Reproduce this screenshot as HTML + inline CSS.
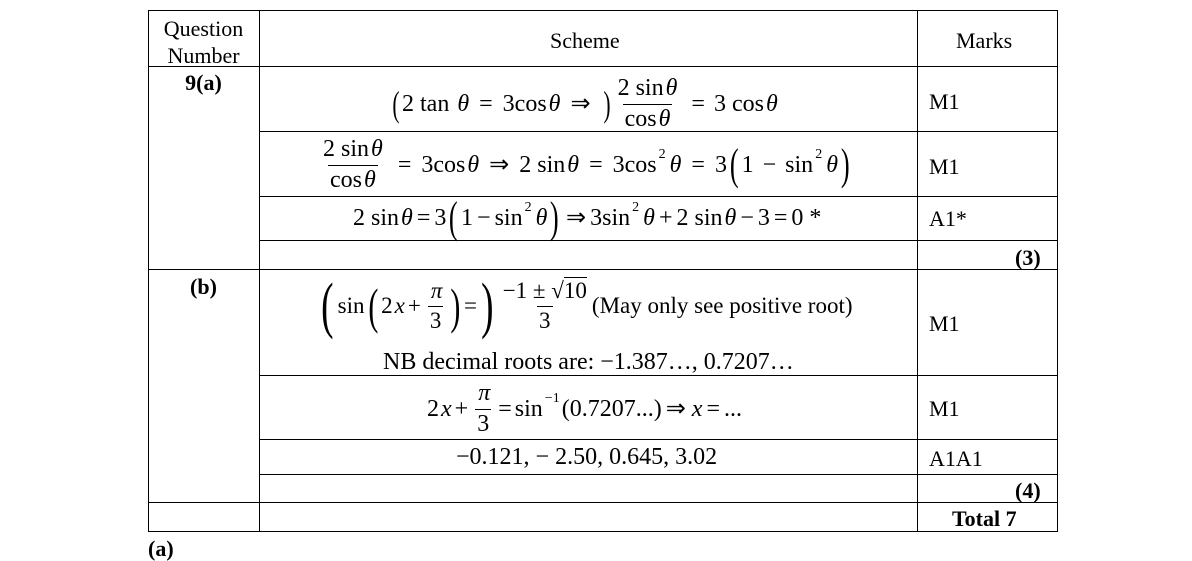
<!DOCTYPE html>
<html><head><meta charset="utf-8"><style>
body{margin:0;background:#fff;width:1192px;height:546px;overflow:hidden;position:relative;font-family:"Liberation Serif",serif;color:#000}
.h{position:absolute;height:1px;background:#000}
.v{position:absolute;width:1px;background:#000}
.t{position:absolute;font-size:21px;white-space:nowrap;line-height:1}
.eq{position:absolute;display:flex;align-items:center;font-size:24px;white-space:nowrap;line-height:1.2}
.fr{display:inline-flex;flex-direction:column;align-items:center;margin:0 3px}
.fr>span{padding:1px 2px;line-height:1.15}
.fr>span+span{border-top:1px solid #000}
i{font-style:italic;margin-left:2px}
.o{margin:0 6px}
.big{font-size:44px;font-weight:100;transform:scaleX(.6);display:inline-block;line-height:1}
.b{font-weight:bold}
.sp{font-size:14px;position:relative;top:-10px;margin:0 2px}
</style></head><body>
<div class="v" style="left:148px;top:10px;height:521px"></div>
<div class="v" style="left:259px;top:10px;height:521px"></div>
<div class="v" style="left:917px;top:10px;height:521px"></div>
<div class="v" style="left:1057px;top:10px;height:521px"></div>
<div class="h" style="left:148px;top:10px;width:910px"></div>
<div class="h" style="left:148px;top:66px;width:910px"></div>
<div class="h" style="left:259px;top:131px;width:799px"></div>
<div class="h" style="left:259px;top:196px;width:799px"></div>
<div class="h" style="left:259px;top:240px;width:799px"></div>
<div class="h" style="left:148px;top:269px;width:910px"></div>
<div class="h" style="left:259px;top:375px;width:799px"></div>
<div class="h" style="left:259px;top:439px;width:799px"></div>
<div class="h" style="left:259px;top:474px;width:799px"></div>
<div class="h" style="left:148px;top:502px;width:910px"></div>
<div class="h" style="left:148px;top:531px;width:910px"></div>

<div class="t" style="left:148px;width:111px;text-align:center;top:15px;line-height:27px;font-size:22px">Question<br>Number</div>
<div class="t" style="left:550px;top:30px;font-size:22px">Scheme</div>
<div class="t" style="left:956px;top:30px;font-size:22px">Marks</div>
<div class="t b" style="left:148px;width:111px;text-align:center;top:72px;font-size:22px">9(a)</div>
<div class="t b" style="left:148px;width:111px;text-align:center;top:276px;font-size:22px">(b)</div>

<div class="eq" style="left:390px;top:70px;height:68px"><span class="big" style="font-size:36px">(</span>2 tan<i>&nbsp;θ</i><span class="o" style="margin:0 10px">=</span>3cos<i>θ</i><span class="o" style="margin:0 10px">⇒</span><span class="big" style="font-size:36px">)</span><span class="fr"><span>2 sin<i>θ</i></span><span>cos<i>θ</i></span></span><span class="o" style="margin:0 9px">=</span>3 cos<i>θ</i></div>
<div class="eq" style="left:318px;top:132px;height:66px"><span class="fr"><span>2 sin<i>θ</i></span><span>cos<i>θ</i></span></span><span class="o" style="margin:0 10px">=</span>3cos<i>θ</i><span class="o" style="margin:0 10px">⇒</span>2 sin<i>θ</i><span class="o" style="margin:0 10px">=</span>3cos<span class="sp">2</span><i>θ</i><span class="o" style="margin:0 10px">=</span>3<span class="big">(</span>1<span class="o" style="margin:0 9px">−</span>sin<span class="sp">2</span><i>θ</i><span class="big">)</span></div>
<div class="eq" style="left:353px;top:198px;height:40px">2 sin<i>θ</i><span class="o" style="margin:0 4px">=</span>3<span class="big">(</span>1<span class="o" style="margin:0 4px">−</span>sin<span class="sp">2</span><i>θ</i><span class="big">)</span><span class="o" style="margin:0 4px">⇒</span>3sin<span class="sp">2</span><i>θ</i><span class="o" style="margin:0 4px">+</span>2 sin<i>θ</i><span class="o" style="margin:0 4px">−</span>3<span class="o" style="margin:0 4px">=</span>0 *</div>

<div class="eq" style="left:317px;top:272px;height:68px;font-size:23px"><span class="big" style="font-size:62px">(</span>sin<span class="big" style="font-size:50px">(</span>2<i>x</i><span class="o" style="margin:0 3px">+</span><span class="fr"><span><i>π</i></span><span>3</span></span><span class="big" style="font-size:50px">)</span>=<span class="big" style="font-size:62px">)</span><span class="fr"><span>−1 ± √<span style="border-top:1px solid #000">10</span></span><span>3</span></span>(May only see positive root)</div>
<div class="t" style="left:383px;top:350px;font-size:24px">NB decimal roots are: −1.387…, 0.7207…</div>
<div class="eq" style="left:427px;top:380px;height:58px">2<i>x</i><span class="o" style="margin:0 3px">+</span><span class="fr"><span><i>π</i></span><span>3</span></span><span class="o" style="margin:0 3px">=</span>sin<span class="sp">−1</span>(0.7207...)<span class="o" style="margin:0 4px">⇒</span><i>x</i><span class="o" style="margin:0 4px">=</span>...</div>
<div class="t" style="left:456px;top:445px;font-size:24px">−0.121, − 2.50, 0.645, 3.02</div>

<div class="t" style="left:929px;top:91px;font-size:22px">M1</div>
<div class="t" style="left:929px;top:156px;font-size:22px">M1</div>
<div class="t" style="left:929px;top:208px;font-size:22px">A1*</div>
<div class="t b" style="left:1015px;top:247px;font-size:22px">(3)</div>
<div class="t" style="left:929px;top:313px;font-size:22px">M1</div>
<div class="t" style="left:929px;top:398px;font-size:22px">M1</div>
<div class="t" style="left:929px;top:448px;font-size:22px">A1A1</div>
<div class="t b" style="left:1015px;top:480px;font-size:22px">(4)</div>
<div class="t b" style="left:952px;top:508px;font-size:22px">Total 7</div>
<div class="t b" style="left:148px;top:538px;font-size:22px">(a)</div>
</body></html>
